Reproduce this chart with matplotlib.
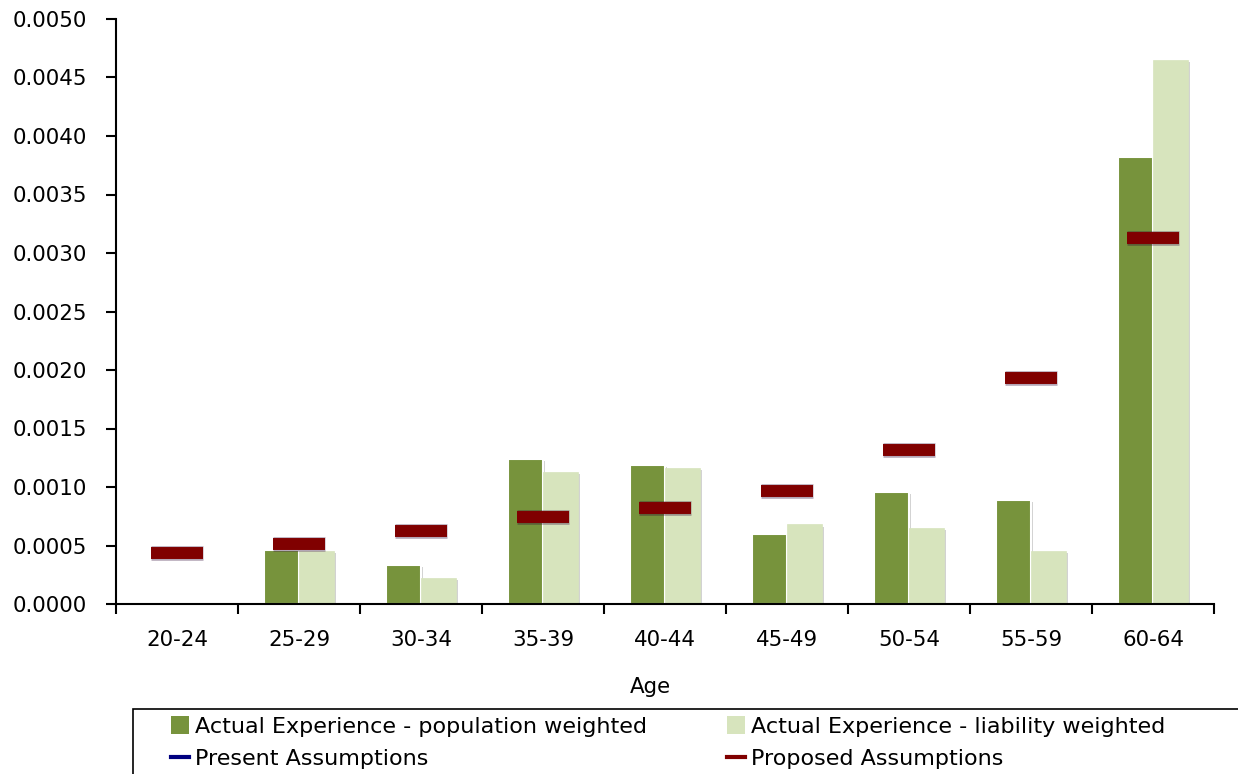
import matplotlib
matplotlib.use("Agg")
import matplotlib.pyplot as plt
import matplotlib.patheffects as pe
from matplotlib.patches import Patch, Rectangle
from matplotlib.lines import Line2D
from matplotlib.ticker import FixedLocator, NullFormatter, FormatStrFormatter
import numpy as np

categories = ["20-24", "25-29", "30-34", "35-39", "40-44", "45-49", "50-54", "55-59", "60-64"]
pop_weighted = [0.0, 0.00046, 0.00033, 0.00124, 0.00119, 0.00060, 0.00096, 0.00089, 0.00382]
liab_weighted = [0.0, 0.00045, 0.00022, 0.00113, 0.00116, 0.00068, 0.00065, 0.00045, 0.00465]
proposed = [0.00044, 0.00051, 0.00062, 0.00074, 0.00082, 0.00097, 0.00132, 0.00193, 0.00313]

GREEN = "#77933C"
LIGHT = "#D7E4BD"
RED = "#800000"
NAVY = "#000080"

plt.rcParams['font.family'] = ['DejaVu Sans']
FS = 15.4

W, H = 1238, 774
fig = plt.figure(figsize=(W / 100, H / 100), dpi=100)
ax = fig.add_axes([116 / W, 1 - 604 / H, (1214 - 116) / W, (604 - 19) / H])

x = np.arange(len(categories))
bw = 0.285
shadow = [pe.SimplePatchShadow(offset=(1.5, -1.5), shadow_rgbFace='gray', alpha=0.35), pe.Normal()]
b1 = ax.bar(x - bw / 2, pop_weighted, width=bw, color=GREEN, edgecolor='white', linewidth=1.5, zorder=2)
b2 = ax.bar(x + bw / 2, liab_weighted, width=bw, color=LIGHT, edgecolor=LIGHT, linewidth=0.5, zorder=2)
for bars, vals in ((b1, pop_weighted), (b2, liab_weighted)):
    for r, v in zip(bars, vals):
        if v <= 0:
            r.set_visible(False)
        r.set_path_effects(shadow)

mk = matplotlib.markers.MarkerStyle('_', capstyle='butt')
ax.plot(x, proposed, linestyle='none', marker=mk, markersize=37, markeredgewidth=8.6,
        color=RED, zorder=4,
        path_effects=[pe.SimpleLineShadow(offset=(0, 0), shadow_color='#2a0030', alpha=0.35, linewidth=10.5), pe.Normal()])

ax.set_xlim(-0.5, len(categories) - 0.5)
ax.set_ylim(0, 0.005)
ax.yaxis.set_major_locator(FixedLocator(np.arange(0, 0.00501, 0.0005)))
ax.yaxis.set_major_formatter(FormatStrFormatter('%.4f'))
ax.xaxis.set_major_locator(FixedLocator(np.arange(-0.5, len(categories), 1.0)))
ax.xaxis.set_major_formatter(NullFormatter())
ax.xaxis.set_minor_locator(FixedLocator(x))
ax.set_xticklabels(categories, minor=True)
ax.tick_params(axis='x', which='minor', length=0, labelsize=FS, pad=19)
ax.tick_params(axis='x', which='major', length=7, width=1.5, direction='out')
ax.tick_params(axis='y', which='major', length=7, width=1.5, direction='out', labelsize=FS, pad=14)
for s in ('top', 'right'):
    ax.spines[s].set_visible(False)
for s in ('left', 'bottom'):
    ax.spines[s].set_linewidth(1.5)

fig.text(650 / W, 1 - 687 / H, "Age", ha='center', va='center', fontsize=FS)

# legend frame (extends beyond the figure edge like the reference)
fig.patches.append(Rectangle((133 / W, 1 - 790 / H), (1250 - 133) / W, 81 / H,
                             transform=fig.transFigure, facecolor='none',
                             edgecolor='black', linewidth=1.2))

LFS = 16
col1 = [Patch(facecolor=GREEN, edgecolor='none'), Line2D([], [], color=NAVY, linewidth=3)]
lab1 = ["Actual Experience - population weighted", "Present Assumptions"]
col2 = [Patch(facecolor=LIGHT, edgecolor='none'), Line2D([], [], color=RED, linewidth=3)]
lab2 = ["Actual Experience - liability weighted", "Proposed Assumptions"]
common = dict(loc='upper left', frameon=False, borderaxespad=0, borderpad=0, fontsize=LFS,
              handlelength=0.8, handleheight=0.85, handletextpad=0.3, labelspacing=0.55)
leg1 = fig.legend(col1, lab1, bbox_to_anchor=(171 / W, 1 - 716 / H), **common)
leg2 = fig.legend(col2, lab2, bbox_to_anchor=(727 / W, 1 - 716 / H), **common)

fig.savefig("out.png", dpi=100)
